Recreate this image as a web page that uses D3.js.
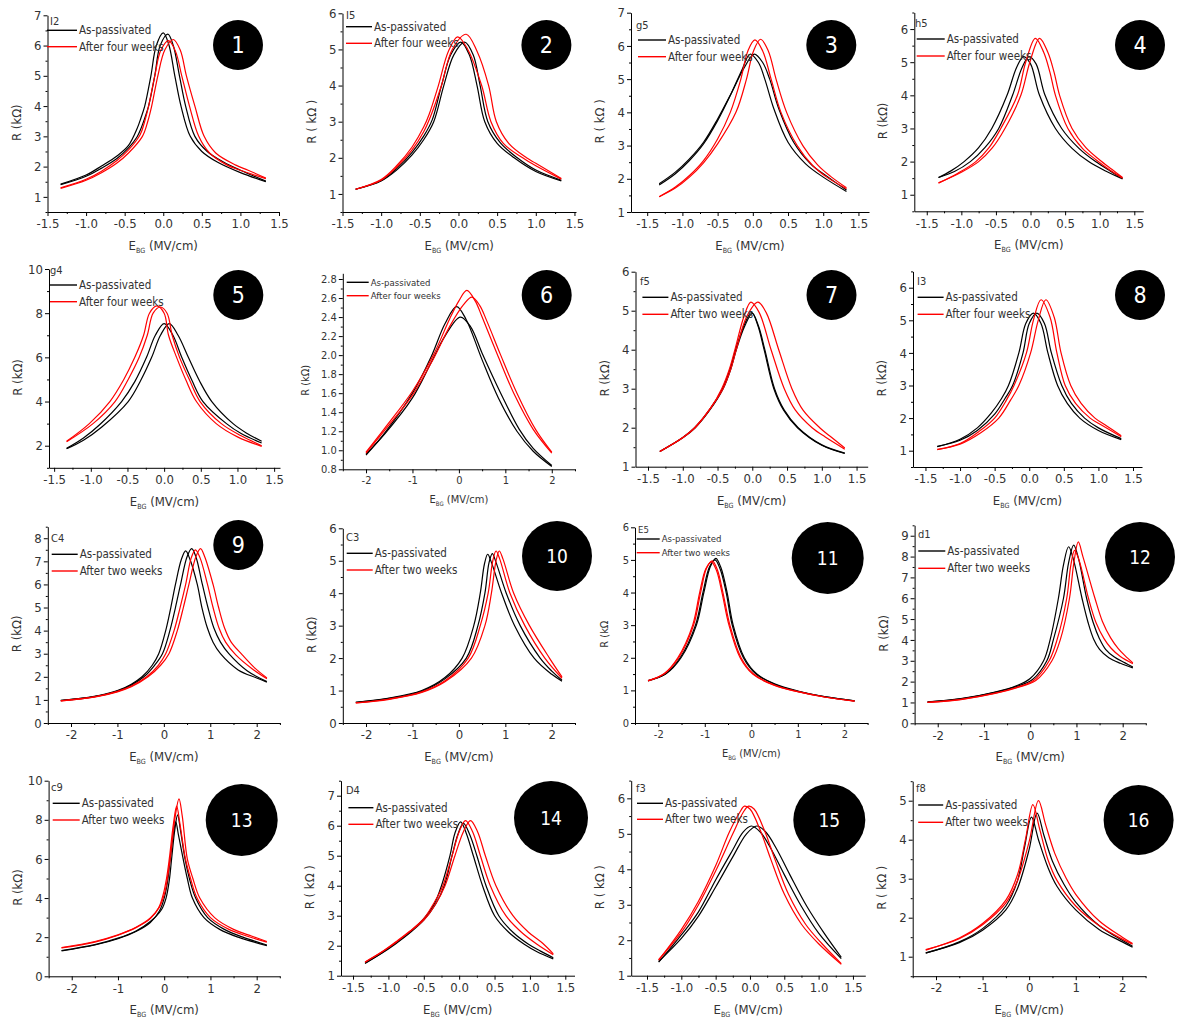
<!DOCTYPE html>
<html>
<head>
<meta charset="utf-8">
<script src="https://cdn.jsdelivr.net/npm/d3@7"></script>
<style>
  body { margin: 0; background: #fff; }
  text { font-family: "Liberation Sans Narrow", "DejaVu Sans Condensed", Roboto, sans-serif; fill: #333; }
</style>
</head>
<body>
<svg id="chart"></svg>
<script>
// sample names, legend labels, panel numbers
const sampleNames = ["I2", "I5", "g5", "h5", "g4", "", "f5", "I3", "C4", "C3", "E5", "d1", "c9", "D4", "f3", "f8"];
const legendFirst = "As-passivated";
const legendSecond = ["After four weeks", "After four weeks", "After four weeks", "After four weeks",
  "After four weeks", "After four weeks", "After two weeks", "After four weeks",
  "After two weeks", "After two weeks", "After two weeks", "After two weeks",
  "After two weeks", "After two weeks", "After two weeks", "After two weeks"];
const panelNumbers = d3.range(1, 17);
const yTitles = ["R (kΩ)", "R ( kΩ )", "R ( kΩ )", "R (kΩ)", "R (kΩ)", "R (kΩ)", "R (kΩ)", "R (kΩ)",
  "R (kΩ)", "R (kΩ)", "R (kΩ", "R (kΩ)", "R (kΩ)", "R ( kΩ )", "R ( kΩ )", "R ( kΩ )"];

// tick values
const xTicksNarrow = [-1.5, -1, -0.5, 0, 0.5, 1, 1.5];
const xTicksWide = [-2, -1, 0, 1, 2];
const yTicks = [
  [1, 2, 3, 4, 5, 6, 7], [1, 2, 3, 4, 5, 6], [1, 2, 3, 4, 5, 6, 7], [1, 2, 3, 4, 5, 6],
  [2, 4, 6, 8, 10], [0.8, 1.0, 1.2, 1.4, 1.6, 1.8, 2.0, 2.2, 2.4, 2.6, 2.8], [1, 2, 3, 4, 5, 6], [1, 2, 3, 4, 5, 6],
  [0, 1, 2, 3, 4, 5, 6, 7, 8], [0, 1, 2, 3, 4, 5, 6], [0, 1, 2, 3, 4, 5, 6], [0, 1, 2, 3, 4, 5, 6, 7, 8, 9],
  [0, 2, 4, 6, 8, 10], [1, 2, 3, 4, 5, 6, 7], [1, 2, 3, 4, 5, 6], [1, 2, 3, 4, 5]
];

// each panel: two as-passivated sweeps (black), two aged sweeps (red); points are [E_BG, R]
const p1 = [
  [[-1.33,1.42],[-1.0,1.72],[-0.8,2.02],[-0.6,2.35],[-0.45,2.7],[-0.34,3.25],[-0.29,3.6],[-0.24,4.0],[-0.16,5.0],[-0.09,6.0],[0.0,6.42],[0.07,6.05],[0.15,5.0],[0.23,4.0],[0.35,3.0],[0.5,2.5],[0.7,2.15],[1.0,1.8],[1.33,1.5]],
  [[-1.33,1.4],[-1.0,1.68],[-0.8,1.95],[-0.6,2.27],[-0.45,2.62],[-0.34,2.98],[-0.29,3.25],[-0.24,3.6],[-0.19,4.0],[-0.11,5.0],[-0.04,6.0],[0.06,6.38],[0.13,6.0],[0.21,5.0],[0.29,4.0],[0.41,3.0],[0.57,2.5],[0.78,2.15],[1.0,1.88],[1.33,1.52]],
  [[-1.33,1.3],[-1.0,1.58],[-0.8,1.85],[-0.6,2.2],[-0.45,2.55],[-0.3,3.05],[-0.24,3.5],[-0.19,4.0],[-0.11,5.0],[-0.03,5.85],[0.07,6.16],[0.16,5.8],[0.24,5.0],[0.34,4.0],[0.46,3.0],[0.6,2.45],[0.83,2.05],[1.0,1.88],[1.33,1.6]],
  [[-1.33,1.28],[-1.0,1.55],[-0.8,1.8],[-0.6,2.12],[-0.45,2.45],[-0.27,3.0],[-0.2,3.5],[-0.15,4.0],[-0.07,5.0],[0.02,5.85],[0.13,6.2],[0.22,5.85],[0.3,5.0],[0.41,4.0],[0.53,3.0],[0.68,2.45],[0.94,2.05],[1.1,1.88],[1.33,1.62]]
];
const p2 = [
  [[-1.33,1.13],[-1.0,1.37],[-0.8,1.7],[-0.6,2.15],[-0.45,2.6],[-0.34,3.05],[-0.22,4.0],[-0.1,4.85],[0.03,5.2],[0.14,4.85],[0.24,4.0],[0.34,3.0],[0.5,2.4],[0.72,2.0],[1.0,1.62],[1.33,1.36]],
  [[-1.33,1.13],[-1.0,1.36],[-0.8,1.66],[-0.6,2.08],[-0.45,2.5],[-0.32,3.0],[-0.19,4.0],[-0.06,4.85],[0.08,5.2],[0.19,4.85],[0.28,4.0],[0.38,3.0],[0.54,2.42],[0.76,2.0],[1.0,1.66],[1.33,1.38]],
  [[-1.33,1.13],[-1.0,1.4],[-0.8,1.78],[-0.6,2.3],[-0.45,2.85],[-0.38,3.2],[-0.26,4.0],[-0.13,4.95],[-0.01,5.35],[0.12,5.0],[0.3,4.0],[0.42,3.0],[0.58,2.4],[0.83,2.0],[1.0,1.78],[1.33,1.41]],
  [[-1.33,1.13],[-1.0,1.38],[-0.8,1.74],[-0.6,2.22],[-0.45,2.72],[-0.36,3.15],[-0.22,4.0],[-0.08,5.0],[0.1,5.42],[0.24,4.95],[0.39,4.0],[0.49,3.0],[0.65,2.4],[0.88,2.0],[1.0,1.85],[1.33,1.43]]
];
const p3 = [
  [[-1.33,1.81],[-1.1,2.15],[-0.9,2.55],[-0.7,3.05],[-0.5,3.75],[-0.3,4.6],[-0.15,5.3],[-0.04,5.75],[0.08,5.5],[0.17,5.0],[0.3,4.1],[0.5,3.1],[0.75,2.45],[1.0,2.05],[1.33,1.62]],
  [[-1.33,1.85],[-1.1,2.2],[-0.9,2.6],[-0.7,3.1],[-0.5,3.8],[-0.3,4.6],[-0.12,5.35],[0.02,5.75],[0.14,5.5],[0.24,5.0],[0.37,4.1],[0.58,3.1],[0.82,2.45],[1.05,2.08],[1.33,1.66]],
  [[-1.33,1.46],[-1.1,1.75],[-0.9,2.1],[-0.7,2.55],[-0.5,3.2],[-0.32,4.0],[-0.17,5.0],[-0.07,5.85],[0.03,6.18],[0.14,5.85],[0.26,5.0],[0.4,4.0],[0.63,3.0],[0.85,2.4],[1.05,2.05],[1.33,1.7]],
  [[-1.33,1.46],[-1.1,1.72],[-0.9,2.05],[-0.7,2.48],[-0.5,3.05],[-0.24,4.0],[-0.09,5.0],[0.01,5.85],[0.11,6.2],[0.22,5.85],[0.33,5.0],[0.48,4.0],[0.71,3.0],[0.92,2.42],[1.1,2.08],[1.33,1.73]]
];
const p4 = [
  [[-1.33,1.52],[-1.15,1.72],[-0.96,2.0],[-0.75,2.42],[-0.56,3.0],[-0.34,4.0],[-0.2,4.85],[-0.1,5.17],[0.0,4.95],[0.13,4.0],[0.36,3.0],[0.6,2.4],[0.84,2.0],[1.1,1.7],[1.33,1.48]],
  [[-1.33,1.52],[-1.1,1.7],[-0.87,2.0],[-0.66,2.42],[-0.46,3.0],[-0.26,4.0],[-0.12,4.85],[-0.02,5.17],[0.08,4.95],[0.21,4.0],[0.45,3.0],[0.7,2.4],[0.94,2.0],[1.15,1.72],[1.33,1.5]],
  [[-1.33,1.35],[-1.05,1.65],[-0.79,2.0],[-0.6,2.42],[-0.43,3.0],[-0.19,4.0],[-0.07,5.0],[0.07,5.72],[0.19,5.3],[0.28,4.7],[0.36,4.0],[0.54,3.0],[0.75,2.4],[0.95,2.05],[1.15,1.74],[1.33,1.5]],
  [[-1.33,1.36],[-1.0,1.68],[-0.75,2.0],[-0.55,2.42],[-0.37,3.0],[-0.14,4.0],[-0.01,5.0],[0.13,5.72],[0.25,5.3],[0.34,4.7],[0.42,4.0],[0.6,3.0],[0.8,2.42],[1.0,2.05],[1.18,1.76],[1.33,1.52]]
];
const p5 = [
  [[-1.33,1.88],[-1.1,2.35],[-0.88,2.95],[-0.58,4.0],[-0.4,4.9],[-0.24,6.0],[-0.12,7.0],[0.0,7.53],[0.12,7.0],[0.24,6.0],[0.38,4.95],[0.53,4.0],[0.85,3.0],[1.05,2.55],[1.33,2.12]],
  [[-1.33,1.86],[-1.1,2.25],[-0.85,2.85],[-0.49,4.0],[-0.32,4.95],[-0.17,6.0],[-0.05,7.0],[0.07,7.53],[0.19,7.0],[0.33,6.0],[0.48,4.95],[0.65,4.0],[0.94,3.0],[1.12,2.58],[1.33,2.2]],
  [[-1.33,2.2],[-1.02,3.0],[-0.74,4.0],[-0.55,5.0],[-0.4,6.0],[-0.28,7.0],[-0.2,8.0],[-0.1,8.33],[0.0,8.0],[0.06,7.0],[0.17,6.0],[0.3,4.95],[0.44,4.0],[0.71,3.0],[1.0,2.4],[1.33,1.97]],
  [[-1.33,2.18],[-0.97,3.0],[-0.67,4.0],[-0.49,5.0],[-0.34,6.0],[-0.23,7.0],[-0.15,8.0],[-0.05,8.28],[0.04,8.0],[0.11,7.0],[0.21,6.0],[0.35,4.95],[0.49,4.0],[0.78,3.0],[1.05,2.45],[1.33,2.0]]
];
const p6 = [
  [[-2,0.95],[-1.6,1.18],[-1.0,1.6],[-0.6,1.98],[-0.3,2.33],[-0.05,2.51],[0.15,2.38],[0.5,1.95],[0.85,1.55],[1.25,1.2],[1.6,0.99],[2.0,0.83]],
  [[-2,0.96],[-1.6,1.17],[-1.0,1.55],[-0.6,1.92],[-0.3,2.2],[0.03,2.4],[0.25,2.3],[0.5,2.02],[0.9,1.6],[1.3,1.22],[1.6,1.02],[2.0,0.84]],
  [[-2,0.98],[-1.6,1.23],[-1.0,1.62],[-0.55,2.0],[-0.2,2.38],[0.0,2.57],[0.17,2.68],[0.35,2.57],[0.5,2.4],[0.85,1.98],[1.2,1.58],[1.6,1.22],[2.0,0.97]],
  [[-2,0.97],[-1.6,1.21],[-1.0,1.58],[-0.55,1.96],[-0.2,2.3],[0.1,2.53],[0.28,2.61],[0.45,2.52],[0.6,2.36],[0.9,2.0],[1.25,1.6],[1.65,1.22],[2.0,0.98]]
];
const p7 = [
  [[-1.33,1.39],[-1.0,1.75],[-0.83,2.0],[-0.6,2.5],[-0.43,3.0],[-0.32,3.5],[-0.24,4.0],[-0.12,4.62],[-0.01,4.96],[0.08,4.62],[0.17,4.0],[0.31,3.0],[0.45,2.45],[0.65,2.0],[1.0,1.55],[1.33,1.34]],
  [[-1.33,1.39],[-1.0,1.74],[-0.82,2.0],[-0.6,2.48],[-0.42,3.0],[-0.31,3.5],[-0.23,4.0],[-0.11,4.6],[0.0,4.93],[0.09,4.6],[0.18,4.0],[0.32,3.0],[0.46,2.45],[0.66,2.0],[1.0,1.56],[1.33,1.35]],
  [[-1.33,1.39],[-1.0,1.75],[-0.83,2.0],[-0.6,2.5],[-0.44,3.0],[-0.33,3.5],[-0.25,4.0],[-0.12,4.85],[-0.02,5.22],[0.1,4.95],[0.27,4.0],[0.46,3.0],[0.62,2.45],[0.86,2.0],[1.05,1.76],[1.33,1.45]],
  [[-1.33,1.39],[-1.0,1.74],[-0.82,2.0],[-0.6,2.5],[-0.42,3.0],[-0.31,3.5],[-0.23,4.0],[-0.08,4.85],[0.08,5.22],[0.2,4.95],[0.38,4.0],[0.57,3.0],[0.73,2.45],[0.97,2.0],[1.12,1.78],[1.33,1.48]]
];
const p8 = [
  [[-1.33,1.12],[-1.0,1.35],[-0.75,1.7],[-0.55,2.15],[-0.4,2.6],[-0.3,3.0],[-0.15,4.0],[-0.05,4.9],[0.06,5.22],[0.17,4.9],[0.27,4.0],[0.41,3.0],[0.55,2.45],[0.73,2.0],[1.0,1.62],[1.33,1.34]],
  [[-1.33,1.13],[-1.0,1.32],[-0.75,1.62],[-0.5,2.12],[-0.35,2.6],[-0.24,3.0],[-0.09,4.0],[0.0,4.9],[0.11,5.22],[0.22,4.9],[0.32,4.0],[0.47,3.0],[0.61,2.45],[0.8,2.0],[1.0,1.7],[1.33,1.37]],
  [[-1.33,1.03],[-1.0,1.22],[-0.72,1.6],[-0.5,2.0],[-0.33,2.55],[-0.22,3.0],[-0.04,4.0],[0.06,5.0],[0.17,5.63],[0.3,5.1],[0.4,4.0],[0.52,3.0],[0.67,2.45],[0.88,2.0],[1.05,1.78],[1.33,1.43]],
  [[-1.33,1.04],[-1.0,1.2],[-0.7,1.55],[-0.44,2.0],[-0.27,2.55],[-0.15,3.0],[0.02,4.0],[0.13,5.0],[0.24,5.63],[0.36,5.1],[0.46,4.0],[0.6,3.0],[0.75,2.45],[0.95,2.0],[1.12,1.76],[1.33,1.46]]
];
const p9 = [
  [[-2.22,0.98],[-1.5,1.15],[-1.0,1.4],[-0.7,1.68],[-0.47,2.0],[-0.25,2.5],[-0.11,3.0],[0.04,4.0],[0.15,5.0],[0.25,6.0],[0.38,7.1],[0.47,7.45],[0.56,7.1],[0.72,6.0],[0.82,5.0],[0.94,4.1],[1.06,3.5],[1.22,3.0],[1.6,2.3],[2.0,1.95],[2.22,1.77]],
  [[-2.22,0.97],[-1.5,1.14],[-1.0,1.38],[-0.7,1.64],[-0.43,2.0],[-0.2,2.5],[-0.03,3.0],[0.13,4.0],[0.25,5.0],[0.36,6.0],[0.5,7.2],[0.6,7.55],[0.69,7.2],[0.83,6.0],[0.95,5.0],[1.08,4.1],[1.22,3.5],[1.4,3.0],[1.8,2.25],[2.22,1.8]],
  [[-2.22,0.96],[-1.5,1.13],[-1.0,1.37],[-0.7,1.6],[-0.37,2.0],[-0.12,2.5],[0.04,3.0],[0.22,4.0],[0.35,5.0],[0.47,6.0],[0.59,7.15],[0.68,7.5],[0.78,7.15],[0.94,6.0],[1.06,5.0],[1.19,4.1],[1.33,3.5],[1.55,2.95],[1.9,2.35],[2.22,1.92]],
  [[-2.22,0.96],[-1.5,1.12],[-1.0,1.35],[-0.7,1.57],[-0.34,2.0],[-0.07,2.5],[0.11,3.0],[0.29,4.0],[0.42,5.0],[0.54,6.0],[0.69,7.2],[0.79,7.55],[0.88,7.2],[1.06,6.0],[1.18,5.0],[1.31,4.1],[1.45,3.5],[1.69,2.95],[1.95,2.4],[2.22,1.95]]
];
const p10 = [
  [[-2.22,0.64],[-1.5,0.77],[-0.8,1.0],[-0.3,1.4],[0.07,2.0],[0.32,3.0],[0.46,4.0],[0.55,4.9],[0.62,5.2],[0.7,4.95],[0.92,4.0],[1.2,3.0],[1.62,2.0],[2.0,1.5],[2.22,1.29]],
  [[-2.22,0.64],[-1.5,0.76],[-0.8,0.98],[-0.3,1.36],[0.16,2.0],[0.41,3.0],[0.56,4.0],[0.65,4.95],[0.72,5.22],[0.8,4.95],[1.02,4.0],[1.32,3.0],[1.75,2.0],[2.0,1.6],[2.22,1.32]],
  [[-2.22,0.62],[-1.5,0.74],[-0.8,0.96],[-0.3,1.3],[0.2,2.0],[0.46,3.0],[0.63,4.0],[0.73,5.0],[0.8,5.3],[0.88,5.05],[1.1,4.0],[1.42,3.0],[1.85,2.0],[2.22,1.38]],
  [[-2.22,0.62],[-1.5,0.73],[-0.8,0.94],[-0.3,1.27],[0.27,2.0],[0.56,3.0],[0.7,4.0],[0.8,5.0],[0.87,5.3],[0.95,5.05],[1.18,4.0],[1.52,3.0],[1.95,2.0],[2.22,1.42]]
];
const p11 = [
  [[-2.22,1.3],[-1.84,1.5],[-1.51,2.0],[-1.18,3.0],[-1.02,4.0],[-0.88,4.8],[-0.76,5.05],[-0.65,4.75],[-0.52,4.0],[-0.39,3.0],[-0.15,2.0],[0.12,1.5],[0.5,1.2],[1.0,0.98],[1.6,0.8],[2.22,0.68]],
  [[-2.22,1.29],[-1.85,1.5],[-1.53,2.0],[-1.2,3.0],[-1.04,4.0],[-0.9,4.78],[-0.78,5.0],[-0.67,4.72],[-0.54,4.0],[-0.41,3.0],[-0.17,2.0],[0.1,1.5],[0.5,1.19],[1.0,0.97],[1.6,0.8],[2.22,0.68]],
  [[-2.22,1.3],[-1.86,1.52],[-1.56,2.0],[-1.24,3.0],[-1.09,4.0],[-0.96,4.75],[-0.84,4.97],[-0.73,4.7],[-0.61,4.0],[-0.46,3.0],[-0.22,2.0],[0.05,1.5],[0.5,1.16],[1.0,0.96],[1.6,0.79],[2.22,0.67]],
  [[-2.22,1.29],[-1.87,1.52],[-1.58,2.0],[-1.26,3.0],[-1.11,4.0],[-0.98,4.72],[-0.86,4.94],[-0.75,4.68],[-0.63,4.0],[-0.48,3.0],[-0.24,2.0],[0.03,1.5],[0.5,1.15],[1.0,0.96],[1.6,0.79],[2.22,0.67]]
];
const p12 = [
  [[-2.22,1.02],[-1.5,1.18],[-0.76,1.5],[-0.3,1.8],[0.0,2.15],[0.29,3.0],[0.43,4.0],[0.61,6.0],[0.72,7.6],[0.83,8.47],[0.93,7.9],[1.12,6.0],[1.25,4.85],[1.37,4.05],[1.5,3.55],[1.7,3.15],[1.95,2.88],[2.22,2.66]],
  [[-2.22,1.03],[-1.5,1.17],[-0.76,1.48],[-0.3,1.76],[0.05,2.1],[0.36,3.0],[0.5,4.0],[0.72,6.0],[0.83,7.7],[0.94,8.55],[1.04,7.95],[1.22,6.0],[1.36,4.85],[1.5,4.05],[1.63,3.55],[1.82,3.18],[2.05,2.9],[2.22,2.7]],
  [[-2.22,1.0],[-1.5,1.15],[-0.76,1.45],[-0.3,1.72],[0.07,2.05],[0.41,3.0],[0.58,4.0],[0.79,6.0],[0.88,7.6],[0.96,8.3],[1.06,7.8],[1.26,6.0],[1.42,4.85],[1.6,4.05],[1.75,3.6],[1.95,3.2],[2.22,2.86]],
  [[-2.22,1.0],[-1.5,1.14],[-0.76,1.43],[-0.3,1.7],[0.12,2.05],[0.47,3.0],[0.65,4.0],[0.85,6.0],[0.95,7.8],[1.04,8.7],[1.14,8.0],[1.4,6.0],[1.56,4.9],[1.74,4.1],[1.9,3.6],[2.05,3.25],[2.22,2.9]]
];
const p13 = [
  [[-2.22,1.3],[-1.5,1.6],[-1.0,1.92],[-0.6,2.3],[-0.3,2.75],[-0.1,3.35],[0.0,4.0],[0.07,4.8],[0.13,6.0],[0.2,7.3],[0.25,7.9],[0.31,7.2],[0.41,6.0],[0.5,5.0],[0.61,4.0],[0.86,3.0],[1.2,2.4],[1.6,2.0],[2.22,1.57]],
  [[-2.22,1.32],[-1.5,1.62],[-1.0,1.95],[-0.6,2.33],[-0.3,2.8],[-0.06,3.4],[0.04,4.0],[0.11,4.9],[0.16,6.0],[0.23,7.5],[0.29,8.25],[0.35,7.5],[0.45,6.0],[0.55,4.95],[0.68,4.0],[0.94,3.0],[1.3,2.4],[1.7,2.0],[2.22,1.6]],
  [[-2.22,1.45],[-1.5,1.75],[-1.0,2.1],[-0.6,2.5],[-0.3,2.95],[-0.12,3.5],[-0.02,4.2],[0.05,5.0],[0.11,6.0],[0.2,7.8],[0.27,8.7],[0.34,7.8],[0.46,6.0],[0.57,5.0],[0.71,4.0],[1.0,3.0],[1.4,2.4],[1.8,2.05],[2.22,1.75]],
  [[-2.22,1.47],[-1.5,1.78],[-1.0,2.12],[-0.6,2.52],[-0.3,2.98],[-0.1,3.55],[0.01,4.25],[0.07,5.0],[0.13,6.0],[0.24,8.2],[0.32,9.07],[0.39,8.2],[0.5,6.0],[0.62,5.0],[0.77,4.0],[1.09,3.0],[1.5,2.4],[1.9,2.05],[2.22,1.78]]
];
const p14 = [
  [[-1.33,1.41],[-1.1,1.75],[-0.9,2.08],[-0.7,2.45],[-0.5,2.9],[-0.35,3.4],[-0.25,4.0],[-0.13,5.0],[-0.06,5.75],[0.02,6.13],[0.1,5.75],[0.2,5.0],[0.33,4.0],[0.5,3.0],[0.7,2.45],[0.92,2.05],[1.1,1.8],[1.33,1.56]],
  [[-1.33,1.42],[-1.1,1.74],[-0.9,2.06],[-0.7,2.42],[-0.5,2.85],[-0.33,3.4],[-0.21,4.0],[-0.1,5.0],[-0.02,5.7],[0.06,6.08],[0.15,5.7],[0.25,5.0],[0.38,4.0],[0.56,3.0],[0.76,2.45],[0.98,2.05],[1.15,1.82],[1.33,1.6]],
  [[-1.33,1.45],[-1.1,1.78],[-0.9,2.12],[-0.7,2.48],[-0.5,2.9],[-0.35,3.45],[-0.23,4.0],[-0.1,5.0],[0.0,5.8],[0.09,6.17],[0.19,5.8],[0.3,5.0],[0.44,4.0],[0.66,3.0],[0.88,2.45],[1.1,2.05],[1.33,1.7]],
  [[-1.33,1.46],[-1.1,1.78],[-0.9,2.1],[-0.7,2.46],[-0.5,2.85],[-0.33,3.4],[-0.2,4.0],[-0.06,5.0],[0.06,5.8],[0.16,6.17],[0.26,5.8],[0.37,5.0],[0.52,4.0],[0.76,3.0],[0.98,2.45],[1.18,2.08],[1.33,1.73]]
];
const p15 = [
  [[-1.33,1.38],[-1.0,2.15],[-0.75,2.8],[-0.5,3.7],[-0.25,4.55],[-0.1,5.05],[0.02,5.22],[0.15,5.05],[0.3,4.6],[0.5,3.85],[0.75,2.95],[1.0,2.2],[1.33,1.48]],
  [[-1.33,1.4],[-1.0,2.05],[-0.75,2.68],[-0.5,3.5],[-0.25,4.35],[-0.05,5.0],[0.1,5.22],[0.23,5.05],[0.38,4.6],[0.58,3.85],[0.83,2.95],[1.08,2.2],[1.33,1.52]],
  [[-1.33,1.44],[-1.0,2.3],[-0.75,3.1],[-0.5,4.1],[-0.3,5.05],[-0.15,5.6],[-0.08,5.78],[0.0,5.7],[0.15,5.1],[0.3,4.3],[0.5,3.3],[0.75,2.45],[1.0,1.9],[1.33,1.32]],
  [[-1.33,1.45],[-1.0,2.22],[-0.75,3.0],[-0.5,3.95],[-0.25,5.0],[-0.1,5.6],[-0.02,5.78],[0.06,5.7],[0.21,5.1],[0.36,4.3],[0.56,3.3],[0.81,2.45],[1.05,1.9],[1.33,1.34]]
];
const p16 = [
  [[-2.22,1.09],[-1.5,1.38],[-1.0,1.72],[-0.5,2.3],[-0.25,2.95],[-0.1,3.8],[0.05,4.58],[0.2,4.0],[0.4,3.3],[0.6,2.8],[1.0,2.2],[1.5,1.7],[2.0,1.38],[2.22,1.24]],
  [[-2.22,1.1],[-1.5,1.36],[-1.0,1.68],[-0.5,2.2],[-0.25,2.75],[0.0,3.75],[0.17,4.68],[0.32,4.1],[0.5,3.45],[0.75,2.85],[1.0,2.4],[1.5,1.8],[2.0,1.42],[2.22,1.27]],
  [[-2.22,1.17],[-1.5,1.48],[-1.0,1.85],[-0.5,2.45],[-0.25,3.1],[-0.08,4.0],[0.08,4.9],[0.22,4.3],[0.4,3.5],[0.6,2.95],[1.0,2.3],[1.5,1.8],[2.0,1.45],[2.22,1.32]],
  [[-2.22,1.18],[-1.5,1.46],[-1.0,1.82],[-0.5,2.38],[-0.25,2.95],[0.0,3.95],[0.2,5.0],[0.35,4.4],[0.55,3.65],[0.8,3.0],[1.0,2.6],[1.5,1.92],[2.0,1.5],[2.22,1.34]]
];
const allCurves = [p1, p2, p3, p4, p5, p6, p7, p8, p9, p10, p11, p12, p13, p14, p15, p16];

// panel frames (pixel box, scale domains, legend/label/badge placement)
const layout = [
  { l: 47.5, r: 279, t: 15.3, b: 212, xd: [-1.5, 1.5], yd: [0.5, 7], lg: [47, 30.3, 46.7, 30], tag: [50, 21], c: [238, 45, 25] },
  { l: 342.5, r: 576, t: 13.3, b: 212, xd: [-1.5, 1.52], yd: [0.5, 6], lg: [346, 26.7, 43.3, 26], tag: [346, 15], c: [546.4, 45, 25] },
  { l: 631, r: 869, t: 12.7, b: 212, xd: [-1.73, 1.65], yd: [1, 7], lg: [638, 40, 56.7, 28], tag: [636, 25], c: [831.3, 45, 25] },
  { l: 914.3, r: 1143.3, t: 12.5, b: 211.3, xd: [-1.68, 1.63], yd: [0.5, 6.5], lg: [916.7, 39, 56, 28], tag: [915, 23.3], c: [1140, 45, 25] },
  { l: 49, r: 280, t: 269, b: 467.8, xd: [-1.57, 1.58], yd: [1, 10], lg: [50, 285, 301.7, 27], tag: [50, 270], c: [238.3, 295, 25] },
  { l: 342.8, r: 575, t: 273.3, b: 469.3, xd: [-2.5, 2.5], yd: [0.8, 2.86], lg: [346.7, 282.3, 295.7, 22], tag: [346, 270], c: [546.7, 295, 25], small: true },
  { l: 635.5, r: 867.7, t: 271.7, b: 466.7, xd: [-1.68, 1.66], yd: [1, 6], lg: [642.4, 297.3, 314.3, 26], tag: [640, 280.7], c: [831.5, 295, 25] },
  { l: 913, r: 1142, t: 271.4, b: 467, xd: [-1.68, 1.63], yd: [0.5, 6.5], lg: [917.6, 297.3, 314.3, 26], tag: [917, 280.7], c: [1140, 295, 25] },
  { l: 47.8, r: 279.9, t: 526.7, b: 723, xd: [-2.5, 2.5], yd: [0, 8.5], lg: [51.7, 554.3, 571, 26], tag: [51, 538.3], c: [238.3, 545, 25] },
  { l: 342.8, r: 575, t: 528.3, b: 723, xd: [-2.5, 2.5], yd: [0, 6], lg: [346.7, 553.3, 570, 26], tag: [346, 536.7], c: [557, 556, 35] },
  { l: 635, r: 867.6, t: 527.3, b: 723, xd: [-2.5, 2.5], yd: [0, 6], lg: [636.7, 539, 552.7, 23], tag: [638, 530], c: [827.7, 558, 36], small: true },
  { l: 914.6, r: 1145.8, t: 525.3, b: 723.3, xd: [-2.5, 2.5], yd: [0, 9.5], lg: [918.3, 551, 568.3, 27], tag: [918, 534.3], c: [1140, 557, 35] },
  { l: 48.6, r: 279.8, t: 780.7, b: 976.3, xd: [-2.5, 2.5], yd: [0, 10], lg: [52.7, 803.3, 820, 27], tag: [51, 786.7], c: [241.7, 820, 36] },
  { l: 341, r: 574.5, t: 780.7, b: 975.7, xd: [-1.67, 1.63], yd: [1, 7.5], lg: [348.4, 807.7, 824.3, 25], tag: [346, 790], c: [551, 818, 37] },
  { l: 631.2, r: 865.3, t: 780.6, b: 975.7, xd: [-1.73, 1.68], yd: [1, 6.5], lg: [637, 803.3, 819.3, 26], tag: [636, 788.3], c: [829.3, 820, 36] },
  { l: 912.7, r: 1145.6, t: 781.2, b: 976.2, xd: [-2.5, 2.5], yd: [0.5, 5.5], lg: [918.2, 805, 822.3, 25], tag: [916, 788.3], c: [1138.6, 820, 35] }
];

const width = 1177;
const height = 1023;
const colors = ["#000", "#000", "#ff0000", "#ff0000"];

const svg = d3.select("#chart").attr("width", width).attr("height", height);

// minor ticks halfway between majors, kept inside the domain
function minorTicks(major, domain) {
  const step = major[1] - major[0];
  const lo = Math.min(...domain), hi = Math.max(...domain);
  const out = [];
  for (let v = major[0] - step / 2; v <= hi + 1e-9; v += step) {
    if (v >= lo - 1e-9 && !major.some(m => Math.abs(m - v) < 1e-9)) out.push(+v.toFixed(4));
  }
  return out;
}

layout.forEach((p, i) => {
  const g = svg.append("g");
  const x = d3.scaleLinear().domain(p.xd).range([p.l, p.r]);
  const y = d3.scaleLinear().domain(p.yd).range([p.b, p.t]);
  const narrow = p.xd[0] > -2;
  const xt = narrow ? xTicksNarrow : xTicksWide;
  const yt = yTicks[i];
  const fs = p.small ? 11 : 13;
  const fmtX = narrow ? (d => d.toFixed(1)) : (d => String(d));
  const fmtY = i === 5 ? (d => d.toFixed(1)) : (d => String(d));

  // x axis
  g.append("g").attr("transform", `translate(0,${p.b})`)
    .call(d3.axisBottom(x).tickValues(xt).tickSize(4).tickSizeOuter(0).tickPadding(3).tickFormat(fmtX))
    .attr("font-size", fs);
  g.append("g").attr("transform", `translate(0,${p.b})`)
    .call(d3.axisBottom(x).tickValues(minorTicks(xt, p.xd)).tickSize(2).tickSizeOuter(0).tickFormat(""))
    .call(s => s.select(".domain").remove());

  // y axis
  g.append("g").attr("transform", `translate(${p.l},0)`)
    .call(d3.axisLeft(y).tickValues(yt).tickSize(4).tickSizeOuter(0).tickPadding(2).tickFormat(fmtY))
    .attr("font-size", fs);
  g.append("g").attr("transform", `translate(${p.l},0)`)
    .call(d3.axisLeft(y).tickValues(minorTicks(yt, p.yd)).tickSize(2).tickSizeOuter(0).tickFormat(""))
    .call(s => s.select(".domain").remove());

  g.selectAll(".domain, .tick line").attr("stroke", "#000").attr("stroke-width", 1);

  // axis titles
  const xTitle = g.append("text")
    .attr("x", (p.l + p.r) / 2)
    .attr("y", p.b + (p.small ? 34 : 38))
    .attr("text-anchor", "middle")
    .attr("font-size", fs);
  xTitle.append("tspan").text("E");
  xTitle.append("tspan").attr("dy", 3).attr("font-size", fs * 0.55).text("BG");
  xTitle.append("tspan").attr("dy", -3).text(" (MV/cm)");

  g.append("text")
    .attr("transform", `translate(${p.l - (i === 5 ? 34 : 27)},${(p.t + p.b) / 2 + 9}) rotate(-90)`)
    .attr("text-anchor", "middle")
    .attr("font-size", fs)
    .text(yTitles[i]);

  // curves
  const line = d3.line().x(d => x(d[0])).y(d => y(d[1])).curve(d3.curveCatmullRom.alpha(0.5));
  g.selectAll("path.curve")
    .data(allCurves[i])
    .join("path")
    .attr("class", "curve")
    .attr("d", line)
    .attr("fill", "none")
    .attr("stroke", (_, k) => colors[k])
    .attr("stroke-width", 1.2);

  // legend
  const [lx, ly1, ly2, len] = p.lg;
  const lfs = p.small ? 9.5 : 11.5;
  [[ly1, "#000", legendFirst], [ly2, "#ff0000", legendSecond[i]]].forEach(([ly, col, label]) => {
    g.append("line").attr("x1", lx).attr("x2", lx + len).attr("y1", ly).attr("y2", ly)
      .attr("stroke", col).attr("stroke-width", 1.4);
    g.append("text").attr("x", lx + len + 2).attr("y", ly).attr("dy", "0.35em")
      .attr("font-size", lfs).text(label);
  });
  if (sampleNames[i]) {
    g.append("text").attr("x", p.tag[0]).attr("y", p.tag[1]).attr("dy", "0.35em")
      .attr("font-size", p.small ? 9.5 : 11).text(sampleNames[i]);
  }

  // numbered badge
  const [cx, cy, cr] = p.c;
  g.append("circle").attr("cx", cx).attr("cy", cy).attr("r", cr).attr("fill", "#000");
  g.append("text").attr("x", cx).attr("y", cy).attr("dy", "0.36em")
    .attr("text-anchor", "middle")
    .attr("font-size", cr > 30 ? 19 : 23)
    .style("fill", "#fff")
    .text(panelNumbers[i]);
});
</script>
</body>
</html>
